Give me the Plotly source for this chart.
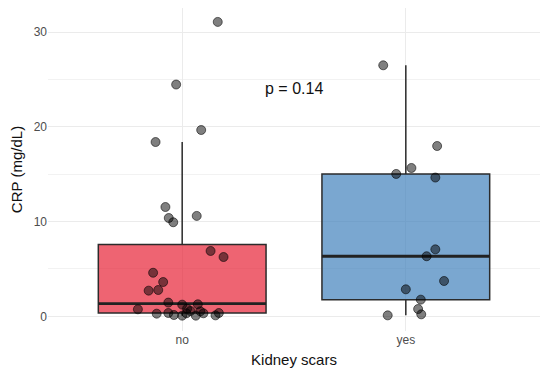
import plotly.graph_objects as go

categories = ["no", "yes"]
cat_pos = [1, 2]

# jittered points: (jitter x offset in category units, CRP value)
no_jitter = [-0.075, -0.06, -0.04, 0.065, 0.127, 0.185, -0.13, -0.085, -0.15, -0.107,
             -0.198, -0.062, 0.0, 0.07, 0.022, 0.037, 0.081, 0.095, -0.114, -0.062,
             -0.037, 0.0, 0.019, 0.061, 0.149, 0.164, 0.159, -0.027, 0.085, -0.119]
no_values = [11.54, 10.38, 9.93, 10.6, 6.9, 6.26, 4.6, 3.62, 2.71, 2.78,
             0.74, 1.45, 1.23, 1.27, 0.81, 0.56, 0.53, 0.32, 0.28, 0.35,
             0.14, 0.07, 0.32, 0.07, 0.1, 0.35, 31.08, 24.47, 19.67, 18.4]
yes_jitter = [-0.101, 0.14, 0.025, -0.043, 0.132, 0.132, 0.093, 0.171, 0.0, 0.067, 0.055, 0.069, -0.081]
yes_values = [26.5, 17.98, 15.66, 15.03, 14.65, 7.07, 6.34, 3.73, 2.85, 1.76, 0.77, 0.21, 0.1]

# box statistics
q1 = [0.35, 1.76]
median = [1.34, 6.34]
q3 = [7.57, 15.03]
lowerfence = [0.07, 0.1]
upperfence = [18.4, 26.5]
fills = ["rgba(231,34,54,0.7)", "rgba(66,129,188,0.7)"]

p_label = "p = 0.14"
p_y = 24.0
box_w = 0.75

fig = go.Figure()
for i, c in enumerate(categories):
    fig.add_trace(go.Box(
        x=[cat_pos[i]], q1=[q1[i]], median=[median[i]], q3=[q3[i]],
        lowerfence=[lowerfence[i]], upperfence=[upperfence[i]],
        fillcolor=fills[i], line=dict(color="#2B2B2B", width=1.5),
        width=box_w, whiskerwidth=0, boxpoints=False, showlegend=False, hoverinfo="skip"))
    fig.add_trace(go.Scatter(
        x=[cat_pos[i] - box_w / 2, cat_pos[i] + box_w / 2], y=[median[i], median[i]],
        mode="lines", line=dict(color="#222222", width=2.8), showlegend=False))

for pos, jit, vals in [(cat_pos[0], no_jitter, no_values), (cat_pos[1], yes_jitter, yes_values)]:
    fig.add_trace(go.Scatter(
        x=[pos + j for j in jit], y=vals, mode="markers",
        marker=dict(size=9, color="rgba(0,0,0,0.5)",
                    line=dict(color="rgba(0,0,0,0.55)", width=1)),
        showlegend=False))

fig.add_annotation(x=1.5, y=p_y, text=p_label, showarrow=False,
                   font=dict(size=16, color="#111111"))

fig.update_layout(
    width=550, height=376,
    margin=dict(l=40, r=18, t=0, b=53),
    paper_bgcolor="white", plot_bgcolor="white",
    font=dict(family="Liberation Sans, Arial, sans-serif"),
    xaxis=dict(range=[0.4, 2.6], tickvals=cat_pos, ticktext=categories, automargin=False,
               showgrid=True, gridcolor="#EBEBEB", gridwidth=1.2, zeroline=False,
               tickfont=dict(size=12, color="#4D4D4D"), ticks="",
               title=dict(text="Kidney scars", font=dict(size=15, color="#111111"), standoff=8)),
    yaxis=dict(range=[-1.55, 32.55], tickvals=[0, 10, 20, 30], automargin=False,
               showgrid=True, gridcolor="#EBEBEB", gridwidth=1.2, zeroline=False,
               minor=dict(tickvals=[5, 15, 25], showgrid=True, gridcolor="#F2F2F2", gridwidth=0.8),
               tickfont=dict(size=12, color="#4D4D4D"), ticks="",
               title=dict(text="CRP (mg/dL)", font=dict(size=15, color="#111111"), standoff=10)),
)

fig.write_html("out.html")
